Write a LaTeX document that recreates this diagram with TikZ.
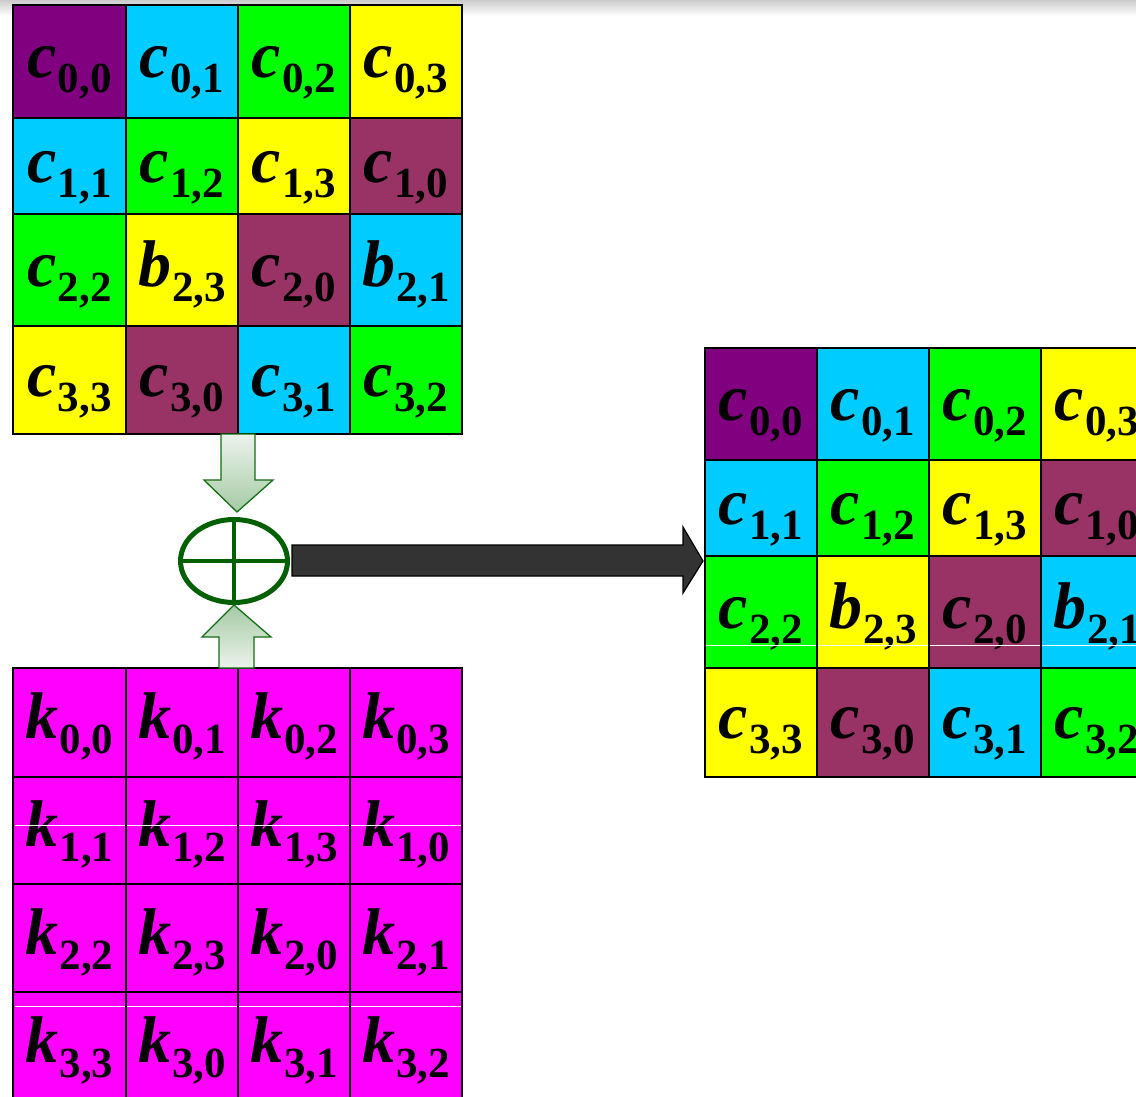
\documentclass[tikz,border=0pt]{standalone}
\usepackage{fontspec}
\setmainfont{Liberation Serif}
\usetikzlibrary{shapes.geometric,calc}
\definecolor{cpurple}{RGB}{128,0,128}
\definecolor{ccyan}{RGB}{0,204,255}
\definecolor{cgreen}{RGB}{0,255,0}
\definecolor{cyellow}{RGB}{255,255,0}
\definecolor{cmaroon}{RGB}{153,51,102}
\definecolor{cmagenta}{RGB}{255,0,255}
\definecolor{xorgreen}{RGB}{0,96,0}
\definecolor{arrgreen}{RGB}{20,110,20}
\definecolor{arrlight}{RGB}{236,243,236}
\definecolor{arrdark}{RGB}{165,202,165}
\definecolor{darkarr}{RGB}{51,51,51}
\newcommand{\cellLabel}[2]{{\fontsize{66}{66}\selectfont\bfseries\itshape #1}\kern1pt\raisebox{-15pt}{\fontsize{43}{43}\selectfont\bfseries #2}}
\tikzset{
  cellbox/.style={draw=black, line width=1.5pt, inner sep=0pt, outer sep=0pt, anchor=north west},
  celltext/.style={anchor=base, inner sep=0pt, text=black},
  blockarrow/.style={draw=arrgreen, line width=1.3pt},
  artifact/.style={draw=white, line width=0.8pt}
}
\newcommand{\mkcell}[8]{%
  \node[cellbox, fill=#6, minimum width={#4-#2}, minimum height={#5-#3}] (#1) at (#2,#3) {};
  \node[celltext] (#1t) at ($(#1.center)+(0,16)$) {\cellLabel{#7}{#8}};
}
\begin{document}
\begin{tikzpicture}[x=1pt,y=-1pt]
\useasboundingbox (0,0) rectangle (1136,1096);
\clip (0,0) rectangle (1136,1096);
\fill[white] (0,0) rectangle (1136,1096);
\shade[top color=black!20, bottom color=white] (0,0) rectangle (1136,16);
% ---- top grid
\mkcell{t00}{13}{5}{126}{118}{cpurple}{c}{0,0}
\mkcell{t01}{126}{5}{238}{118}{ccyan}{c}{0,1}
\mkcell{t02}{238}{5}{350}{118}{cgreen}{c}{0,2}
\mkcell{t03}{350}{5}{462}{118}{cyellow}{c}{0,3}
\mkcell{t10}{13}{118}{126}{214}{ccyan}{c}{1,1}
\mkcell{t11}{126}{118}{238}{214}{cgreen}{c}{1,2}
\mkcell{t12}{238}{118}{350}{214}{cyellow}{c}{1,3}
\mkcell{t13}{350}{118}{462}{214}{cmaroon}{c}{1,0}
\mkcell{t20}{13}{214}{126}{326}{cgreen}{c}{2,2}
\mkcell{t21}{126}{214}{238}{326}{cyellow}{b}{2,3}
\mkcell{t22}{238}{214}{350}{326}{cmaroon}{c}{2,0}
\mkcell{t23}{350}{214}{462}{326}{ccyan}{b}{2,1}
\mkcell{t30}{13}{326}{126}{434}{cyellow}{c}{3,3}
\mkcell{t31}{126}{326}{238}{434}{cmaroon}{c}{3,0}
\mkcell{t32}{238}{326}{350}{434}{ccyan}{c}{3,1}
\mkcell{t33}{350}{326}{462}{434}{cgreen}{c}{3,2}
% ---- key grid
\mkcell{k00}{13}{668}{126}{777}{cmagenta}{k}{0,0}
\mkcell{k01}{126}{668}{238}{777}{cmagenta}{k}{0,1}
\mkcell{k02}{238}{668}{350}{777}{cmagenta}{k}{0,2}
\mkcell{k03}{350}{668}{462}{777}{cmagenta}{k}{0,3}
\mkcell{k10}{13}{777}{126}{884}{cmagenta}{k}{1,1}
\mkcell{k11}{126}{777}{238}{884}{cmagenta}{k}{1,2}
\mkcell{k12}{238}{777}{350}{884}{cmagenta}{k}{1,3}
\mkcell{k13}{350}{777}{462}{884}{cmagenta}{k}{1,0}
\mkcell{k20}{13}{884}{126}{992}{cmagenta}{k}{2,2}
\mkcell{k21}{126}{884}{238}{992}{cmagenta}{k}{2,3}
\mkcell{k22}{238}{884}{350}{992}{cmagenta}{k}{2,0}
\mkcell{k23}{350}{884}{462}{992}{cmagenta}{k}{2,1}
\mkcell{k30}{13}{992}{126}{1100}{cmagenta}{k}{3,3}
\mkcell{k31}{126}{992}{238}{1100}{cmagenta}{k}{3,0}
\mkcell{k32}{238}{992}{350}{1100}{cmagenta}{k}{3,1}
\mkcell{k33}{350}{992}{462}{1100}{cmagenta}{k}{3,2}
% ---- result grid
\mkcell{r00}{705}{348}{817}{460}{cpurple}{c}{0,0}
\mkcell{r01}{817}{348}{929}{460}{ccyan}{c}{0,1}
\mkcell{r02}{929}{348}{1041}{460}{cgreen}{c}{0,2}
\mkcell{r03}{1041}{348}{1153}{460}{cyellow}{c}{0,3}
\mkcell{r10}{705}{460}{817}{556}{ccyan}{c}{1,1}
\mkcell{r11}{817}{460}{929}{556}{cgreen}{c}{1,2}
\mkcell{r12}{929}{460}{1041}{556}{cyellow}{c}{1,3}
\mkcell{r13}{1041}{460}{1153}{556}{cmaroon}{c}{1,0}
\mkcell{r20}{705}{556}{817}{668}{cgreen}{c}{2,2}
\mkcell{r21}{817}{556}{929}{668}{cyellow}{b}{2,3}
\mkcell{r22}{929}{556}{1041}{668}{cmaroon}{c}{2,0}
\mkcell{r23}{1041}{556}{1153}{668}{ccyan}{b}{2,1}
\mkcell{r30}{705}{668}{817}{777}{cyellow}{c}{3,3}
\mkcell{r31}{817}{668}{929}{777}{cmaroon}{c}{3,0}
\mkcell{r32}{929}{668}{1041}{777}{ccyan}{c}{3,1}
\mkcell{r33}{1041}{668}{1153}{777}{cgreen}{c}{3,2}
% ---- thin white streaks
\foreach \xa/\xb in {15/125,127/237,239/349,351/461} {
  \draw[artifact] (\xa,825) -- (\xb,825);
  \draw[artifact] (\xa,1006) -- (\xb,1006);
}
\foreach \xa/\xb in {706/816,818/928,930/1040,1042/1136} {
  \draw[artifact] (\xa,645) -- (\xb,645);
}
% ---- XOR symbol
\node[ellipse, draw=xorgreen, line width=5pt, minimum width=107pt, minimum height=83pt, inner sep=0pt] (xor) at (234,561) {};
\draw[xorgreen, line width=4pt] (xor.north) -- (xor.south);
\draw[xorgreen, line width=4pt] (xor.west) -- (xor.east);
% ---- block arrows into XOR
\coordinate (dtop) at (238,434);
\coordinate (utop) at (236,605);
\shade[top color=arrlight, bottom color=arrdark, blockarrow]
  ($(dtop)+(-17,0)$) -- ($(dtop)+(17,0)$) -- ($(dtop)+(17,46)$) -- ($(dtop)+(35,46)$)
  -- ($(xor.north)+(3,-5)$) -- ($(dtop)+(-34,46)$) -- ($(dtop)+(-17,46)$) -- cycle;
\shade[top color=arrdark, bottom color=arrlight, blockarrow]
  (xor.south) -- ($(utop)+(35,32)$) -- ($(utop)+(18,32)$) -- ($(utop)+(18,63)$)
  -- ($(utop)+(-17,63)$) -- ($(utop)+(-17,32)$) -- ($(utop)+(-34,32)$) -- cycle;
% ---- output arrow
\coordinate (tip) at (r20.north west);
\draw[fill=darkarr, draw=black, line width=1.2pt]
  ($(xor.east)+(2,-16)$) -- ($(tip)+(-22,-11)$) -- ($(tip)+(-22,-29)$) -- ($(tip)+(-2,5)$)
  -- ($(tip)+(-22,37)$) -- ($(tip)+(-22,20)$) -- ($(xor.east)+(2,15)$) -- cycle;
\end{tikzpicture}
\end{document}
